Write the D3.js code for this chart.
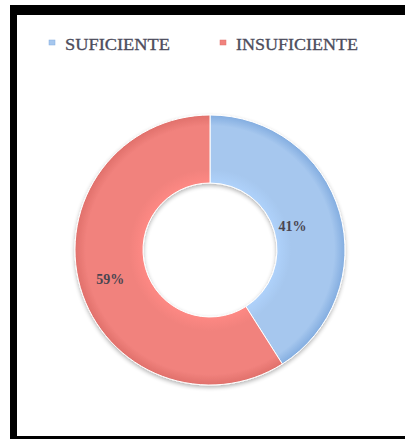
<!DOCTYPE html>
<html><head><meta charset="utf-8">
<script src="https://cdn.jsdelivr.net/npm/d3@7/dist/d3.min.js"></script>
<style>body{margin:0;background:#fff;}svg{display:block;}</style>
</head><body>
<svg id="c" width="405" height="439"></svg>
<script>
const categories = ["SUFICIENTE", "INSUFICIENTE"];
const values = [41, 59];
const labels = ["41%", "59%"];
const colors = ["#a6c7ee", "#f1827d"];
const edgeColors = ["#83ade0", "#e0706b"];

const svg = d3.select("#c");
// frame
svg.append("rect").attr("x",0).attr("y",0).attr("width",405).attr("height",439).attr("fill","#fff");
svg.append("rect").attr("x",10).attr("y",5).attr("width",395).attr("height",10).attr("fill","#000");
svg.append("rect").attr("x",10).attr("y",5).attr("width",7).attr("height",434).attr("fill","#000");
svg.append("rect").attr("x",10).attr("y",436).attr("width",395).attr("height",3).attr("fill","#000");

const cx = 210, cy = 250, rOuter = 135, rInner = 67;
const labelRadii = [86, 104];
const defs = svg.append("defs");
categories.forEach((c,i)=>{
  const g = defs.append("radialGradient").attr("id","g"+i)
    .attr("gradientUnits","userSpaceOnUse").attr("cx",0).attr("cy",0).attr("r",rOuter);
  g.append("stop").attr("offset","49%").attr("stop-color",d3.color(colors[i]).brighter(0.15));
  g.append("stop").attr("offset","60%").attr("stop-color",colors[i]);
  g.append("stop").attr("offset","92%").attr("stop-color",colors[i]);
  g.append("stop").attr("offset","100%").attr("stop-color",edgeColors[i]);
});
const f = defs.append("filter").attr("id","sh").attr("x","-20%").attr("y","-20%").attr("width","140%").attr("height","140%");
f.append("feGaussianBlur").attr("in","SourceAlpha").attr("stdDeviation",2);
f.append("feOffset").attr("dx",0).attr("dy",2).attr("result","b");
f.append("feComponentTransfer").append("feFuncA").attr("type","linear").attr("slope",0.3);
const m = f.append("feMerge"); m.append("feMergeNode"); m.append("feMergeNode").attr("in","SourceGraphic");

const pie = d3.pie().sort(null).value(d=>d);
const arcs = pie(values);
const arc = d3.arc().innerRadius(rInner).outerRadius(rOuter);
const g = svg.append("g").attr("transform",`translate(${cx},${cy})`).attr("filter","url(#sh)");
g.selectAll("path").data(arcs).enter().append("path")
  .attr("d",arc).attr("fill",(d,i)=>`url(#g${i})`)
  .attr("stroke","#fff").attr("stroke-width",1);

const lg = svg.append("g").attr("transform",`translate(${cx},${cy})`);
lg.selectAll("text").data(arcs).enter().append("text")
  .attr("transform",(d,i)=>{const p=d3.arc().innerRadius(labelRadii[i]).outerRadius(labelRadii[i]).centroid(d);return `translate(${p[0]},${p[1]})`;})
  .attr("text-anchor","middle").attr("dominant-baseline","central")
  .attr("font-family","Liberation Serif, serif").attr("font-size",14).attr("font-weight","bold")
  .attr("fill","#4a4550").text((d,i)=>labels[i]);

// legend
const legX = [49, 220];
const leg = svg.append("g");
categories.forEach((c,i)=>{
  leg.append("rect").attr("x",legX[i]).attr("y",40).attr("width",6).attr("height",5).attr("fill",colors[i])
    .attr("stroke",edgeColors[i]).attr("stroke-width",0.5);
  leg.append("text").attr("x",legX[i]+16).attr("y",50)
    .attr("font-family","Liberation Serif, serif").attr("font-size",16)
    .attr("fill","#4c4c5c").attr("stroke","#4c4c5c").attr("stroke-width",0.3)
    .attr("textLength", i===0?105:122).attr("lengthAdjust","spacingAndGlyphs")
    .text(c);
});
</script>
</body></html>
